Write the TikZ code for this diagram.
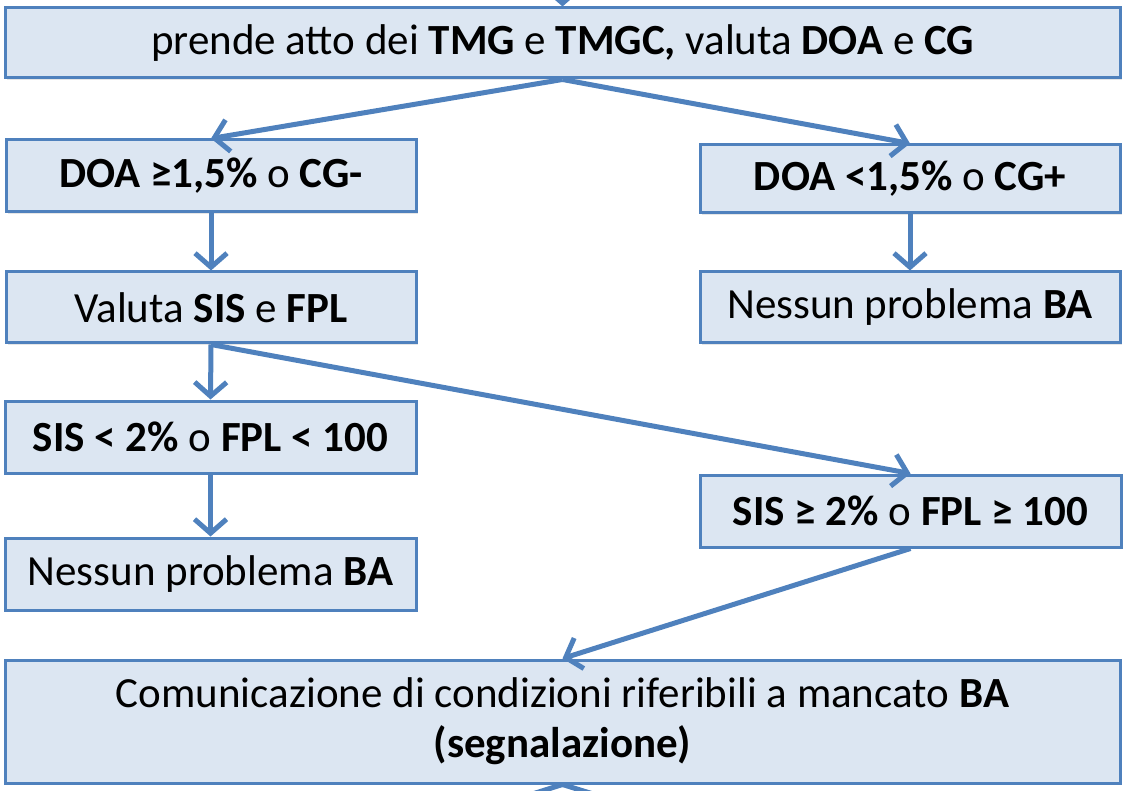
\documentclass[tikz,border=0pt]{standalone}
\usepackage{fontspec}
\setmainfont{Carlito}
\usetikzlibrary{arrows.meta,shadows}
\definecolor{edge}{HTML}{4F81BD}
\definecolor{boxfill}{HTML}{DCE6F2}
\begin{document}
\begin{tikzpicture}[x=1pt,y=-1pt,
  box/.style={draw=edge, line width=3pt, fill=boxfill, inner sep=0pt, align=center,
    font=\fontsize{43}{50}\selectfont,
    drop shadow={opacity=0.2, shadow xshift=2pt, shadow yshift=-2pt}},
  arr/.style={draw=edge, line width=5pt, -{Straight Barb[length=14pt,width=32pt,line width=5pt]}},
  ln/.style={draw=edge, line width=5pt}]
\useasboundingbox (0,0) rectangle (1124,791);
\clip (0,0) rectangle (1124,791);
\node[box, minimum width=1115pt, minimum height=70pt] (top) at (562.5,43)
  {prende atto dei \textbf{TMG} e \textbf{TMGC,} valuta \textbf{DOA} e \textbf{CG}};
\node[box, minimum width=410pt, minimum height=72pt] (doaL) at (211,176)
  {\textbf{DOA ≥1,5\%} o \textbf{CG-}};
\node[box, minimum width=420pt, minimum height=68pt] (doaR) at (910,179)
  {\textbf{DOA <1,5\%} o \textbf{CG+}};
\node[box, minimum width=410pt, minimum height=71pt] (valuta) at (211,307.5)
  {Valuta \textbf{SIS} e \textbf{FPL}};
\node[box, minimum width=420pt, minimum height=71pt] (nessunR) at (910,307.5)
  {Nessun problema \textbf{BA}};
\node[box, minimum width=411pt, minimum height=72pt] (sisL) at (210.5,437)
  {\textbf{SIS < 2\%} o \textbf{FPL < 100}};
\node[box, minimum width=421pt, minimum height=72pt] (sisR) at (910.5,511)
  {\textbf{SIS ≥ 2\%} o \textbf{FPL ≥ 100}};
\node[box, minimum width=411pt, minimum height=72pt] (nessunL) at (210.5,574)
  {Nessun problema \textbf{BA}};
\node[box, minimum width=1115pt, minimum height=123pt] (bottom) at (562.5,721.5)
  {Comunicazione di condizioni riferibili a mancato \textbf{BA}\\\textbf{(segnalazione)}};
\coordinate (in) at (562.5,-20);
\coordinate (outL) at (507,802);
\coordinate (outR) at (619,802);
\draw[arr] (in) -- (top.north);
\draw[arr] (top.south) -- (doaL.north);
\draw[arr] (top.south) -- (doaR.north);
\draw[arr] (doaL.south) -- (valuta.north);
\draw[arr] (doaR.south) -- (nessunR.north);
\draw[arr] (valuta.south) -- (sisL.north);
\draw[arr] (valuta.south) -- (sisR.north);
\draw[arr] (sisL.south) -- (nessunL.north);
\draw[arr] (sisR.south) -- (bottom.north);
\draw[ln] (bottom.south) -- (outL);
\draw[ln] (bottom.south) -- (outR);
\end{tikzpicture}
\end{document}
